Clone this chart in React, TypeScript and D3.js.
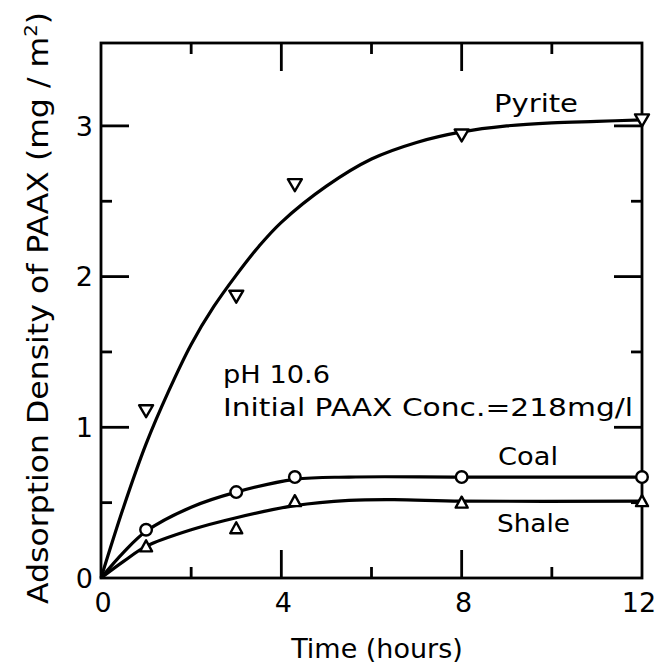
import React from "react";
import * as d3 from "d3";

type P = [number, number];

// Measured points
const pyritePts: P[] = [[1, 1.11], [3, 1.87], [4.3, 2.61], [8, 2.94], [12, 3.04]];
const coalPts: P[] = [[1, 0.32], [3, 0.57], [4.3, 0.67], [8, 0.67], [12, 0.67]];
const shalePts: P[] = [[1, 0.21], [3, 0.33], [4.3, 0.51], [8, 0.5], [12, 0.51]];

// Hand-drawn fitted curves
const pyriteCurve: P[] = [[0, 0], [0.5, 0.47], [1, 0.89], [1.5, 1.24], [2, 1.55], [2.5, 1.8], [3, 2.01], [3.5, 2.2], [4, 2.36], [5, 2.6], [6, 2.78], [7, 2.89], [8, 2.96], [9, 3.0], [10, 3.02], [11, 3.03], [12, 3.04]];
const coalCurve: P[] = [[0, 0], [0.5, 0.17], [1, 0.31], [2, 0.47], [3, 0.57], [4.3, 0.655], [5.5, 0.67], [8, 0.67], [12, 0.67]];
const shaleCurve: P[] = [[0, 0], [0.5, 0.11], [1, 0.21], [2, 0.32], [3, 0.4], [4.3, 0.48], [5.5, 0.515], [6.5, 0.52], [8, 0.51], [12, 0.51]];

const xMajor = [0, 4, 8, 12];
const xMinor = [2, 6, 10];
const yMajor = [0, 1, 2, 3];
const yMinor = [0.5, 1.5, 2.5];

const FONT = "DejaVu Sans";

export default function App() {
  const left = 101, right = 642, top = 43, bottom = 578;
  const x = d3.scaleLinear().domain([0, 12]).range([left, right]);
  const y = d3.scaleLinear().domain([0, 3.55]).range([bottom, top]);
  const line = d3.line<P>().x(d => x(d[0])).y(d => y(d[1])).curve(d3.curveCatmullRom.alpha(0.5));

  const majLen = 28, minLen = 11;
  const sw = 2.8;

  const downTri = (cx: number, cy: number) => {
    const w = 7, h = 5.5;
    return `M${cx - w},${cy - h}L${cx + w},${cy - h}L${cx},${cy + h + 1}Z`;
  };
  const upTri = (cx: number, cy: number) => {
    const w = 6, h = 5;
    return `M${cx - w},${cy + h}L${cx + w},${cy + h}L${cx},${cy - h - 1}Z`;
  };

  return (
    <svg width={659} height={671} style={{ display: "block", margin: 0, position: "absolute", left: 0, top: 0 }} fontFamily={FONT}>
      <rect x={0} y={0} width={659} height={671} fill="#fff" />
      {/* frame */}
      <rect x={left} y={top} width={right - left} height={bottom - top} fill="none" stroke="#000" strokeWidth={sw} />
      {/* x ticks bottom & top */}
      {xMajor.filter(v => v > 0 && v < 12).map(v => (
        <g key={"xM" + v}>
          <line x1={x(v)} x2={x(v)} y1={bottom} y2={bottom - majLen} stroke="#000" strokeWidth={sw} />
          <line x1={x(v)} x2={x(v)} y1={top} y2={top + majLen} stroke="#000" strokeWidth={sw} />
        </g>
      ))}
      {xMinor.map(v => (
        <g key={"xm" + v}>
          <line x1={x(v)} x2={x(v)} y1={bottom} y2={bottom - minLen} stroke="#000" strokeWidth={sw} />
          <line x1={x(v)} x2={x(v)} y1={top} y2={top + minLen} stroke="#000" strokeWidth={sw} />
        </g>
      ))}
      {/* y ticks left & right */}
      {yMajor.filter(v => v > 0).map(v => (
        <g key={"yM" + v}>
          <line x1={left} x2={left + majLen} y1={y(v)} y2={y(v)} stroke="#000" strokeWidth={sw} />
          <line x1={right} x2={right - majLen} y1={y(v)} y2={y(v)} stroke="#000" strokeWidth={sw} />
        </g>
      ))}
      {yMinor.map(v => (
        <g key={"ym" + v}>
          <line x1={left} x2={left + minLen} y1={y(v)} y2={y(v)} stroke="#000" strokeWidth={sw} />
          <line x1={right} x2={right - minLen} y1={y(v)} y2={y(v)} stroke="#000" strokeWidth={sw} />
        </g>
      ))}
      {/* tick labels */}
      {xMajor.map(v => (
        <text key={"xl" + v} x={v === 12 ? x(v) - 3 : x(v) + 2} y={612} fontSize={27} textAnchor="middle">{v}</text>
      ))}
      {yMajor.map(v => (
        <text key={"yl" + v} x={93} y={y(v)} dy="0.36em" fontSize={27} textAnchor="end">{v}</text>
      ))}
      {/* axis titles */}
      <text x={377} y={658} fontSize={27} textAnchor="middle">Time (hours)</text>
      <g transform={`translate(48,308) rotate(-90)`}>
        <text x={0} y={0} fontSize={29} textAnchor="middle" textLength={592} lengthAdjust="spacingAndGlyphs">
          Adsorption Density of PAAX (mg / m<tspan dy={-11} fontSize={18}>2</tspan><tspan dy={11}>)</tspan>
        </text>
      </g>
      {/* curves */}
      <path d={line(pyriteCurve) || ""} fill="none" stroke="#000" strokeWidth={3.2} />
      <path d={line(coalCurve) || ""} fill="none" stroke="#000" strokeWidth={3.2} />
      <path d={line(shaleCurve) || ""} fill="none" stroke="#000" strokeWidth={3.2} />
      {/* markers */}
      {pyritePts.map((d, i) => (
        <path key={"p" + i} d={downTri(x(d[0]), y(d[1]))} fill="#fff" stroke="#000" strokeWidth={2.4} strokeLinejoin="round" />
      ))}
      {coalPts.map((d, i) => (
        <circle key={"c" + i} cx={x(d[0])} cy={y(d[1])} r={5.8} fill="#fff" stroke="#000" strokeWidth={2.4} />
      ))}
      {shalePts.map((d, i) => (
        <path key={"s" + i} d={upTri(x(d[0]), y(d[1]))} fill="#fff" stroke="#000" strokeWidth={2.4} strokeLinejoin="round" />
      ))}
      {/* labels */}
      <text x={494} y={112} fontSize={24} textLength={84} lengthAdjust="spacingAndGlyphs">Pyrite</text>
      <text x={498} y={465} fontSize={25} textLength={60} lengthAdjust="spacingAndGlyphs">Coal</text>
      <text x={497} y={532} fontSize={25} textLength={73} lengthAdjust="spacingAndGlyphs">Shale</text>
      <text x={223} y={383} fontSize={25} textLength={107} lengthAdjust="spacingAndGlyphs">pH 10.6</text>
      <text x={223} y={416} fontSize={25} textLength={410} lengthAdjust="spacingAndGlyphs">Initial PAAX Conc.=218mg/l</text>
    </svg>
  );
}
